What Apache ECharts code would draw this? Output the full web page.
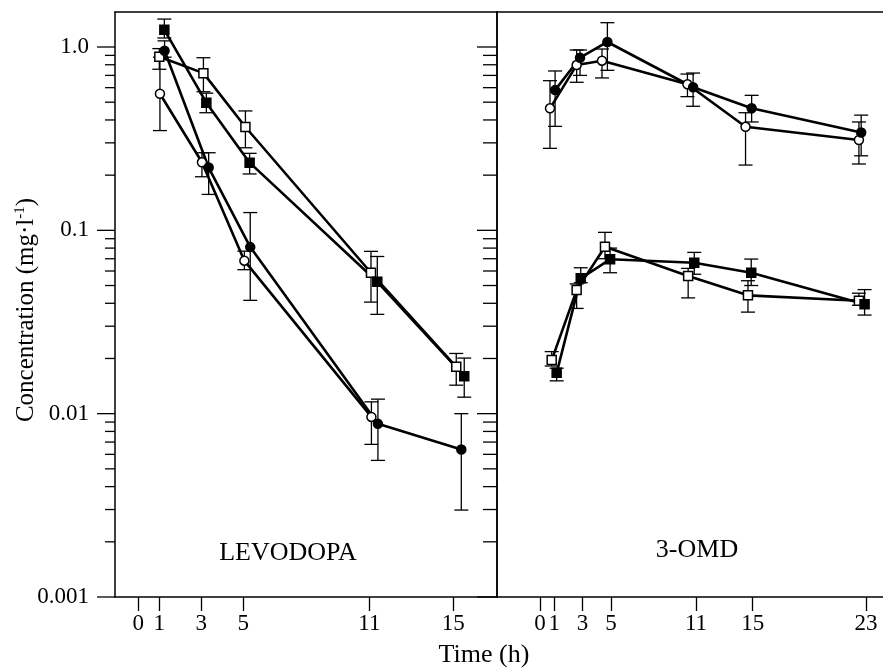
<!DOCTYPE html>
<html>
<head>
<meta charset="utf-8">
<title>Levodopa / 3-OMD concentration</title>
<script src="https://cdn.jsdelivr.net/npm/echarts@6/dist/echarts.min.js"></script>
<style>
  html, body { margin: 0; padding: 0; background: #fff; }
  #chart { width: 883px; height: 668px; }
</style>
</head>
<body>
<div id="chart"></div>
<script>
// axis ticks
const levoTimeTicks = [0, 1, 3, 5, 11, 15]
const omdTimeTicks = [0, 1, 3, 5, 11, 15, 23]
const concTicks = [0.001, 0.01, 0.1, 1]
const concTickLabels = ['0.001', '0.01', '0.1', '1.0']
const concMinorTicks = [
  0.002, 0.003, 0.004, 0.005, 0.006, 0.007, 0.008, 0.009,
  0.02, 0.03, 0.04, 0.05, 0.06, 0.07, 0.08, 0.09,
  0.2, 0.3, 0.4, 0.5, 0.6, 0.7, 0.8, 0.9
]

// LEVODOPA panel
const levoOpenSqTime = [1.0, 3.1, 5.1, 11.08, 15.14]
const levoOpenSqConc = [0.885, 0.72, 0.366, 0.0587, 0.018]
const levoOpenSqLow = [0.756, 0.57, 0.282, 0.0406, 0.0143]
const levoOpenSqHigh = [0.98, 0.874, 0.448, 0.0768, 0.0213]

const levoFilledSqTime = [1.24, 3.24, 5.3, 11.38, 15.52]
const levoFilledSqConc = [1.24, 0.497, 0.234, 0.0524, 0.016]
const levoFilledSqLow = [1.12, 0.438, 0.203, 0.0348, 0.0123]
const levoFilledSqHigh = [1.42, 0.56, 0.263, 0.072, 0.0201]

const levoOpenCircTime = [1.03, 3.03, 5.05, 11.1]
const levoOpenCircConc = [0.556, 0.235, 0.0683, 0.0096]
const levoOpenCircLow = [0.35, 0.196, 0.061, 0.0068]
const levoOpenCircHigh = [0.88, 0.265, 0.077, 0.0116]

const levoFilledCircTime = [1.25, 3.35, 5.33, 11.41, 15.38]
const levoFilledCircConc = [0.954, 0.22, 0.081, 0.0088, 0.00638]
const levoFilledCircLow = [0.88, 0.157, 0.0415, 0.00556, 0.00298]
const levoFilledCircHigh = [1.08, 0.265, 0.125, 0.012, 0.01]

// 3-OMD panel
const omdOpenCircTime = [0.7, 2.58, 4.37, 10.4, 14.5, 22.5]
const omdOpenCircConc = [0.463, 0.797, 0.842, 0.626, 0.367, 0.311]
const omdOpenCircLow = [0.28, 0.642, 0.678, 0.536, 0.227, 0.23]
const omdOpenCircHigh = [0.655, 0.963, 0.975, 0.712, 0.438, 0.39]

const omdFilledCircTime = [1.06, 2.82, 4.75, 10.8, 14.93, 22.66]
const omdFilledCircConc = [0.582, 0.874, 1.065, 0.603, 0.463, 0.342]
const omdFilledCircLow = [0.369, 0.70, 0.746, 0.475, 0.39, 0.255]
const omdFilledCircHigh = [0.74, 0.963, 1.357, 0.721, 0.545, 0.425]

const omdOpenSqTime = [0.82, 2.58, 4.58, 10.45, 14.67, 22.5]
const omdOpenSqConc = [0.0196, 0.0472, 0.0814, 0.0563, 0.0442, 0.0413]
const omdOpenSqLow = [0.0182, 0.0375, 0.07, 0.0428, 0.0358, 0.039]
const omdOpenSqHigh = [0.0218, 0.051, 0.0975, 0.062, 0.0531, 0.0454]

const omdFilledSqTime = [1.17, 2.87, 4.94, 10.88, 14.9, 22.9]
const omdFilledSqConc = [0.0167, 0.0547, 0.0695, 0.0666, 0.0587, 0.0395]
const omdFilledSqLow = [0.0151, 0.0518, 0.0587, 0.0576, 0.05, 0.0345]
const omdFilledSqHigh = [0.0177, 0.0625, 0.08, 0.0758, 0.0697, 0.0475]

const serif = 'Liberation Serif'
const concMin = 0.001
const concMax = 1.552
const levoMin = -1.11
const levoMax = 17.08
const omdMin = -3.04
const omdMax = 24.2

const zip = (a, b) => a.map((v, i) => [v, b[i]])
const zip3 = (a, b, c) => a.map((v, i) => [v, b[i], c[i]])

const renderErrorBar = (params, api) => {
  const x = api.value(0)
  const lo = api.coord([x, api.value(1)])
  const hi = api.coord([x, api.value(2)])
  const half = 7
  const style = { stroke: '#000', lineWidth: 1.3 }
  return {
    type: 'group',
    children: [
      { type: 'line', shape: { x1: lo[0], y1: lo[1], x2: hi[0], y2: hi[1] }, style },
      { type: 'line', shape: { x1: lo[0] - half, y1: lo[1], x2: lo[0] + half, y2: lo[1] }, style },
      { type: 'line', shape: { x1: hi[0] - half, y1: hi[1], x2: hi[0] + half, y2: hi[1] }, style }
    ]
  }
}

// log ticks on both sides of the left panel
const renderConcTick = (params, api) => {
  const v = api.value(1)
  const major = api.value(2) === 1
  const left = api.coord([levoMin, v])
  const right = api.coord([levoMax, v])
  const outLen = major ? 18 : 10
  const inLen = major ? 20 : 14
  const style = { stroke: '#000', lineWidth: 1.3 }
  return {
    type: 'group',
    children: [
      { type: 'line', shape: { x1: left[0] - outLen, y1: left[1], x2: left[0], y2: left[1] }, style },
      { type: 'line', shape: { x1: right[0] - inLen, y1: right[1], x2: right[0], y2: right[1] }, style }
    ]
  }
}

const lineSeries = (axis, times, values, symbol, filled) => ({
  type: 'line',
  xAxisIndex: axis,
  yAxisIndex: axis,
  data: zip(times, values),
  symbol: symbol,
  symbolSize: 9,
  z: 3,
  lineStyle: { color: '#000', width: 2.6 },
  itemStyle: {
    color: filled ? '#000' : '#fff',
    borderColor: '#000',
    borderWidth: 1.5
  }
})

const errorSeries = (axis, times, low, high) => ({
  type: 'custom',
  xAxisIndex: axis,
  yAxisIndex: axis,
  renderItem: renderErrorBar,
  encode: { x: 0, y: [1, 2] },
  data: zip3(times, low, high),
  clip: false,
  z: 1
})

const timeAxis = (grid, min, max, ticks) => ({
  type: 'value',
  gridIndex: grid,
  position: 'bottom',
  min: min,
  max: max,
  splitLine: { show: false },
  axisLine: { lineStyle: { color: '#000', width: 1.5 } },
  axisTick: { customValues: ticks, length: 14, lineStyle: { color: '#000', width: 1.3 } },
  axisLabel: {
    customValues: ticks,
    margin: 15,
    color: '#000',
    fontFamily: serif,
    fontSize: 23
  }
})

const frameAxis = (grid, type, position, min, max) => ({
  type: type,
  gridIndex: grid,
  position: position,
  min: min,
  max: max,
  splitLine: { show: false },
  axisLine: { onZero: false, lineStyle: { color: '#000', width: 1.5 } },
  axisTick: { show: false },
  axisLabel: { show: false }
})

const chart = echarts.init(document.getElementById('chart'))

const option = {
  animation: false,
  backgroundColor: '#fff',
  grid: [
    { left: 115, top: 12, width: 382, height: 585 },
    { left: 497, top: 12, width: 386, height: 585 }
  ],
  xAxis: [
    timeAxis(0, levoMin, levoMax, levoTimeTicks),
    timeAxis(1, omdMin, omdMax, omdTimeTicks),
    frameAxis(0, 'value', 'top', levoMin, levoMax),
    frameAxis(1, 'value', 'top', omdMin, omdMax)
  ],
  yAxis: [
    {
      type: 'log',
      gridIndex: 0,
      position: 'left',
      min: concMin,
      max: concMax,
      splitLine: { show: false },
      axisLine: { onZero: false, lineStyle: { color: '#000', width: 1.5 } },
      axisTick: { show: false },
      axisLabel: {
        margin: 26,
        color: '#000',
        fontFamily: serif,
        fontSize: 23,
        showMaxLabel: false,
        formatter: (v) => {
          const i = concTicks.findIndex(t => Math.abs(Math.log10(t) - Math.log10(v)) < 1e-6)
          return i >= 0 ? concTickLabels[i] : ''
        }
      }
    },
    frameAxis(1, 'log', 'left', concMin, concMax),
    frameAxis(0, 'log', 'right', concMin, concMax)
  ],
  graphic: [
    {
      type: 'text',
      x: 26,
      y: 310,
      rotation: Math.PI / 2,
      style: {
        text: 'Concentration (mg·l{sup|-1})',
        fontFamily: serif,
        fontSize: 25,
        fill: '#000',
        align: 'center',
        verticalAlign: 'middle',
        rich: {
          sup: { fontFamily: serif, fontSize: 15, fill: '#000', padding: [0, 0, 12, 0] }
        }
      }
    },
    {
      type: 'text',
      x: 288,
      y: 553,
      style: { text: 'LEVODOPA', fontFamily: serif, fontSize: 26, fill: '#000', align: 'center', verticalAlign: 'middle' }
    },
    {
      type: 'text',
      x: 697,
      y: 550,
      style: { text: '3-OMD', fontFamily: serif, fontSize: 26, fill: '#000', align: 'center', verticalAlign: 'middle' }
    },
    {
      type: 'text',
      x: 484,
      y: 655,
      style: { text: 'Time (h)', fontFamily: serif, fontSize: 26, fill: '#000', align: 'center', verticalAlign: 'middle' }
    }
  ],
  series: [
    {
      type: 'custom',
      xAxisIndex: 0,
      yAxisIndex: 0,
      renderItem: renderConcTick,
      encode: { x: 0, y: 1 },
      data: concTicks.map(v => [levoMin, v, 1]).concat(concMinorTicks.map(v => [levoMin, v, 0])),
      clip: false,
      silent: true,
      z: 5
    },
    errorSeries(0, levoOpenSqTime, levoOpenSqLow, levoOpenSqHigh),
    errorSeries(0, levoFilledSqTime, levoFilledSqLow, levoFilledSqHigh),
    errorSeries(0, levoOpenCircTime, levoOpenCircLow, levoOpenCircHigh),
    errorSeries(0, levoFilledCircTime, levoFilledCircLow, levoFilledCircHigh),
    lineSeries(0, levoOpenSqTime, levoOpenSqConc, 'rect', false),
    lineSeries(0, levoFilledSqTime, levoFilledSqConc, 'rect', true),
    lineSeries(0, levoOpenCircTime, levoOpenCircConc, 'circle', false),
    lineSeries(0, levoFilledCircTime, levoFilledCircConc, 'circle', true),

    errorSeries(1, omdOpenCircTime, omdOpenCircLow, omdOpenCircHigh),
    errorSeries(1, omdFilledCircTime, omdFilledCircLow, omdFilledCircHigh),
    errorSeries(1, omdOpenSqTime, omdOpenSqLow, omdOpenSqHigh),
    errorSeries(1, omdFilledSqTime, omdFilledSqLow, omdFilledSqHigh),
    lineSeries(1, omdOpenCircTime, omdOpenCircConc, 'circle', false),
    lineSeries(1, omdFilledCircTime, omdFilledCircConc, 'circle', true),
    lineSeries(1, omdOpenSqTime, omdOpenSqConc, 'rect', false),
    lineSeries(1, omdFilledSqTime, omdFilledSqConc, 'rect', true)
  ]
}

chart.setOption(option)
</script>
</body>
</html>
